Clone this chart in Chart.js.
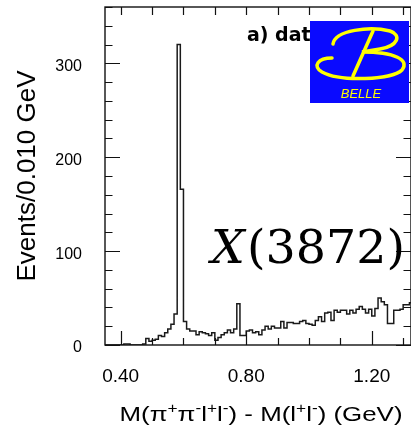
<!DOCTYPE html>
<html>
<head>
<meta charset="utf-8">
<script src="https://cdn.jsdelivr.net/npm/chart.js@4.4.1/dist/chart.umd.min.js"></script>
<style>
  html, body { margin: 0; padding: 0; background: #fff; overflow: hidden; }
  canvas { display: block; }
</style>
</head>
<body>
<canvas id="hist" width="411" height="433"></canvas>
<script>
// M(pi+ pi- l+ l-) - M(l+ l-), 10 MeV bins starting at 0.35 GeV
const binStart = 0.35;
const binWidth = 0.01;
const counts = [
  0, 0, 0, 0, 0, 0, 1, 1, 0, 0,
  0, 0, 1, 7, 4, 5, 6, 10, 9, 13,
  17, 22, 33, 320, 166, 25, 17, 15, 15, 11,
  14, 13, 12, 10, 13, 5, 8, 11, 13, 16,
  13, 17, 44, 10, 10, 15, 16, 13, 14, 11,
  16, 20, 17, 20, 18, 18, 25, 18, 24, 24,
  23, 23, 25, 26, 23, 22, 21, 26, 30, 25,
  34, 35, 26, 37, 35, 37, 37, 33, 37, 34,
  38, 41, 38, 34, 38, 31, 39, 50, 46, 43,
  23, 23, 37, 37, 38, 43, 43, 45
];
const xRange = [0.35, 1.325];
const yRange = [0, 360];
const xTickLabels = ['0.40', '0.80', '1.20'];
const yTickLabels = ['0', '100', '200', '300'];
// x title pieces: [text, superscript?]
const xTitle = [
  ['M(π'], ['+', 1], ['π'], ['-', 1], ['l'], ['+', 1], ['l'], ['-', 1],
  [') - M(l'], ['+', 1], ['l'], ['-', 1], [') (GeV)']
];

// histogram as a stepped line through the bin edges
const points = counts.map((c, i) => ({ x: binStart + i * binWidth, y: c }));
points.push({ x: binStart + counts.length * binWidth, y: counts[counts.length - 1] });

Chart.defaults.color = '#000';
Chart.defaults.font.family = '"Liberation Sans", Arial, sans-serif';

function drawXTitle(ctx, cx, base, width) {
  const big = '21px "Liberation Sans", Arial, sans-serif';
  const small = '14px "Liberation Sans", Arial, sans-serif';
  let total = 0;
  xTitle.forEach(([t, sup]) => { ctx.font = sup ? small : big; total += ctx.measureText(t).width; });
  const sx = width / total;
  ctx.save();
  ctx.translate(cx - width / 2, base);
  ctx.scale(sx, 1);
  let pos = 0;
  xTitle.forEach(([t, sup]) => {
    ctx.font = sup ? small : big;
    ctx.fillText(t, pos, sup ? -8 : 0);
    pos += ctx.measureText(t).width;
  });
  ctx.restore();
}

// frame, inward ticks, labels and the Belle logo
const decor = {
  id: 'decor',
  afterDraw(chart) {
    const { ctx, chartArea: a, scales: { x, y } } = chart;
    ctx.save();
    ctx.strokeStyle = '#111';
    ctx.lineWidth = 1.4;
    ctx.strokeRect(a.left, a.top, a.right - a.left, a.bottom - a.top);

    ctx.lineWidth = 1.2;
    ctx.beginPath();
    for (let k = Math.ceil(x.min * 10); k <= Math.floor(x.max * 10); k++) {
      const px = Math.round(x.getPixelForValue(k / 10)) + 0.5;
      const len = k % 4 === 0 ? 14 : 7;
      ctx.moveTo(px, a.bottom); ctx.lineTo(px, a.bottom - len);
      ctx.moveTo(px, a.top); ctx.lineTo(px, a.top + 8);
    }
    for (let v = y.min; v <= y.max; v += 20) {
      const py = Math.round(y.getPixelForValue(v)) + 0.5;
      const len = v % 100 === 0 ? 15 : 7.5;
      ctx.moveTo(a.left, py); ctx.lineTo(a.left + len, py);
      ctx.moveTo(a.right, py); ctx.lineTo(a.right - len, py);
    }
    ctx.stroke();

    ctx.fillStyle = '#000';
    ctx.textBaseline = 'alphabetic';
    drawXTitle(ctx, 261, 421, 283);

    // panel label (partly hidden by the logo)
    ctx.font = 'bold 19px "DejaVu Sans", sans-serif';
    ctx.fillText('a) data', 247, 41);

    // X(3872), stretched to the width it has in the figure
    ctx.save();
    ctx.font = 'italic 46px "DejaVu Serif", serif';
    const wX = ctx.measureText('X').width;
    ctx.font = '46px "DejaVu Serif", serif';
    const wRest = ctx.measureText('(3872)').width;
    ctx.translate(211, 263);
    ctx.scale(194 / (wX + 2 + wRest), 1);
    ctx.font = 'italic 46px "DejaVu Serif", serif';
    ctx.fillText('X', 0, 0);
    ctx.font = '46px "DejaVu Serif", serif';
    ctx.fillText('(3872)', wX + 2, 0);
    ctx.restore();

    // Belle logo
    ctx.fillStyle = '#0a0aff';
    ctx.fillRect(310, 21, 99, 82);
    ctx.strokeStyle = '#ffff00';
    ctx.lineCap = 'round';
    ctx.lineWidth = 3.5;
    ctx.beginPath();
    ctx.moveTo(333, 44);
    ctx.bezierCurveTo(335, 30, 370, 26, 390, 31);
    ctx.bezierCurveTo(402, 35, 398, 46, 380, 49);
    ctx.lineTo(362, 52);
    ctx.bezierCurveTo(395, 52, 410, 60, 402, 70);
    ctx.bezierCurveTo(392, 80, 340, 82, 322, 72);
    ctx.bezierCurveTo(312, 66, 318, 58, 332, 58);
    ctx.stroke();
    ctx.beginPath();
    ctx.moveTo(373, 31);
    ctx.lineTo(353, 76);
    ctx.stroke();
    ctx.fillStyle = '#ffff00';
    ctx.font = 'italic 13px "Liberation Sans", Arial, sans-serif';
    ctx.textAlign = 'center';
    ctx.fillText('BELLE', 361, 98);
    ctx.restore();
  }
};

new Chart(document.getElementById('hist'), {
  type: 'line',
  data: {
    datasets: [{
      data: points,
      stepped: true,
      borderColor: '#1a1a1a',
      borderWidth: 1.5,
      pointRadius: 0,
      fill: false
    }]
  },
  options: {
    responsive: false,
    animation: false,
    layout: { padding: { top: 7, right: 0, left: 0, bottom: 0 } },
    plugins: { legend: { display: false }, tooltip: { enabled: false } },
    scales: {
      x: {
        type: 'linear',
        min: xRange[0],
        max: xRange[1],
        grid: { display: false, drawTicks: false },
        border: { display: false },
        afterBuildTicks: s => { s.ticks = xTickLabels.map(t => ({ value: parseFloat(t) })); },
        afterFit: s => { s.height = 88; s.paddingLeft = 0; s.paddingRight = 0; },
        ticks: {
          padding: 20,
          maxRotation: 0,
          autoSkip: false,
          font: { size: 19 },
          callback: (v, i) => xTickLabels[i]
        }
      },
      y: {
        min: yRange[0],
        max: yRange[1],
        grid: { display: false, drawTicks: false },
        border: { display: false },
        afterBuildTicks: s => { s.ticks = yTickLabels.map(t => ({ value: Number(t) })); },
        afterFit: s => { s.width = 105; s.paddingTop = 0; s.paddingBottom = 0; },
        ticks: {
          padding: 23,
          labelOffset: 3,
          autoSkip: false,
          font: { size: 16 },
          callback: (v, i) => yTickLabels[i]
        },
        title: {
          display: true,
          text: 'Events/0.010 GeV',
          font: { size: 26 },
          padding: { top: 12, bottom: 0 }
        }
      }
    }
  },
  plugins: [decor]
});
</script>
</body>
</html>
